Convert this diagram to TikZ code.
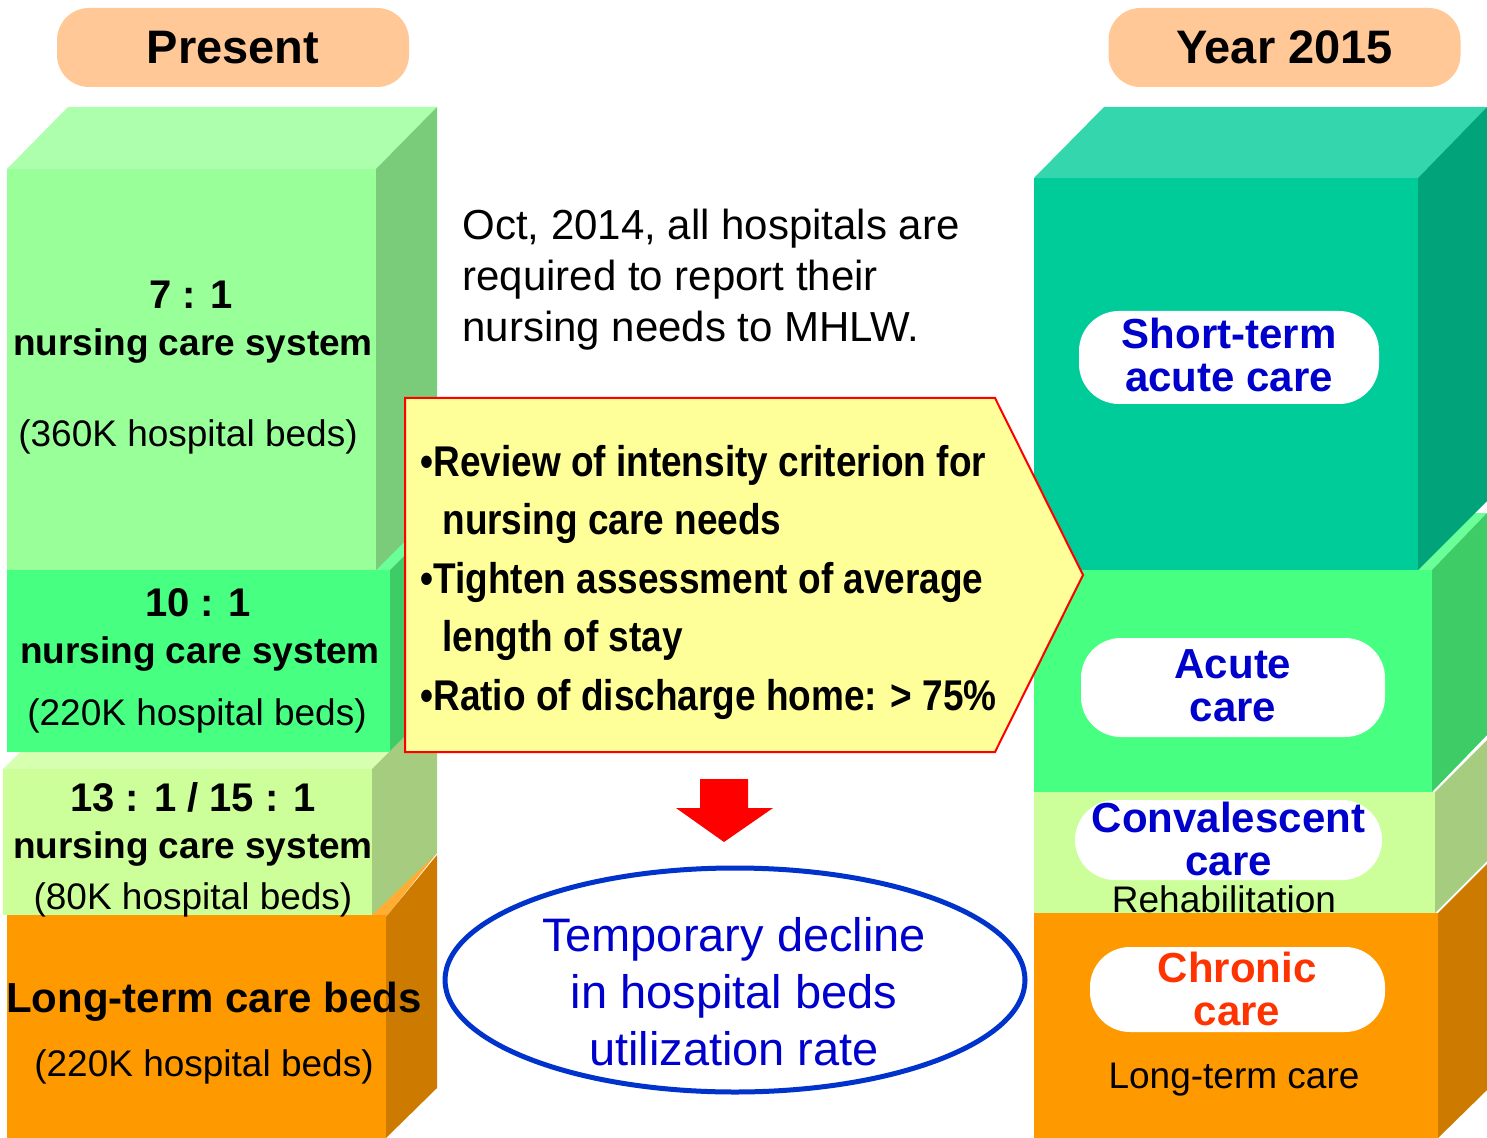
\documentclass[tikz,border=0pt]{standalone}
\usepackage{fontspec}
\setmainfont{Liberation Sans}
\newfontfamily\narrowfont[FakeStretch=0.86]{Liberation Sans}
\usetikzlibrary{shapes.geometric}
\definecolor{peach}{HTML}{FFC896}
\definecolor{mintfront}{HTML}{99FF99}
\definecolor{minttop}{HTML}{ADFFAD}
\definecolor{mintside}{HTML}{7ACC7A}
\definecolor{greenfront}{HTML}{47FF80}
\definecolor{greentop}{HTML}{6BFF99}
\definecolor{greenside}{HTML}{3DCC66}
\definecolor{limefront}{HTML}{CCFF99}
\definecolor{limetop}{HTML}{D6FFB0}
\definecolor{limeside}{HTML}{A6CC80}
\definecolor{orangefront}{HTML}{FF9900}
\definecolor{orangetop}{HTML}{FFAD33}
\definecolor{orangeside}{HTML}{CC7A00}
\definecolor{tealfront}{HTML}{00CC99}
\definecolor{tealtop}{HTML}{33D6AD}
\definecolor{tealside}{HTML}{00A37A}
\definecolor{pillblue}{HTML}{0000CC}
\definecolor{chronicred}{HTML}{FF3300}
\definecolor{ovalblue}{HTML}{0033CC}
\definecolor{notefill}{HTML}{FFFF99}
\begin{document}
\begin{tikzpicture}[x=0.5pt,y=-0.5pt,
  tab/.style={fill=peach,rounded corners=16pt,minimum width=176pt,minimum height=39.5pt,inner sep=0pt,font=\fontsize{23.5}{28}\selectfont\bfseries},
  ratio/.style={anchor=base,font=\fontsize{20}{24}\selectfont\bfseries},
  ncs/.style={anchor=base,font=\fontsize{18.5}{22}\selectfont\bfseries},
  beds/.style={anchor=base,font=\fontsize{18.5}{22}\selectfont},
  pill/.style={fill=white,rounded corners=20pt,inner sep=0pt},
  pilltext/.style={anchor=base,align=center,text=pillblue,font=\fontsize{21}{21.5}\selectfont\bfseries},
  oval/.style={draw=ovalblue,line width=2.5pt,ellipse,minimum width=290pt,minimum height=112pt,inner sep=0pt}]
\useasboundingbox (0,0) rectangle (1487,1138);
\node[tab] (present) at (233,47.5) {Present};
\node[tab] (year) at (1284.5,47.5) {Year 2015};
\fill[minttop] (7,169) -- (376,169) -- (437,107) -- (68,107) -- cycle;
\fill[greentop] (7,570) -- (390,570) -- (440,520) -- (57,520) -- cycle;
\fill[limetop] (3,769) -- (372,769) -- (437,704) -- (68,704) -- cycle;
\fill[orangetop] (7,917) -- (386,917) -- (437,853) -- (58,853) -- cycle;
\fill[mintside] (376,169) -- (437,107) -- (437,509) -- (376,570) -- cycle;
\fill[greenside] (390,570) -- (440,520) -- (440,702) -- (390,752) -- cycle;
\fill[limeside] (372,769) -- (437,704) -- (437,853) -- (372,915) -- cycle;
\fill[orangeside] (386,917) -- (437,855) -- (437,1088) -- (386,1138) -- cycle;
\fill[mintfront] (7,169) rectangle (376,570);
\fill[greenfront] (7,570) rectangle (390,752);
\fill[limefront] (3,769) rectangle (372,915);
\fill[orangefront] (7,915) rectangle (386,1138);
\fill[tealtop] (1034,178) -- (1418,178) -- (1487,107) -- (1104,107) -- cycle;
\fill[greentop] (1034,570) -- (1432,570) -- (1487,513) -- (1089,513) -- cycle;
\fill[tealside] (1418,178) -- (1487,107) -- (1487,501) -- (1418,570) -- cycle;
\fill[greenside] (1432,570) -- (1487,513) -- (1487,735) -- (1432,792) -- cycle;
\fill[limeside] (1435,792) -- (1487,740) -- (1487,861) -- (1435,913) -- cycle;
\fill[orangeside] (1438,913) -- (1487,864) -- (1487,1090) -- (1438,1138) -- cycle;
\fill[tealfront] (1034,178) rectangle (1418,570);
\fill[greenfront] (1034,570) rectangle (1432,792);
\fill[limefront] (1034,792) rectangle (1435,913);
\fill[orangefront] (1034,913) rectangle (1438,1138);
\node[ratio] (sevenone) at (191,309) {7 : 1};
\node[ncs] (sevenonencs) at (193,356) {nursing care system};
\node[beds] (sevenonebeds) at (188,447) {(360K hospital beds)};
\node[ratio] (tenone) at (198,616) {10 : 1};
\node[ncs] (tenonencs) at (200,663) {nursing care system};
\node[beds] (tenonebeds) at (197,725) {(220K hospital beds)};
\node[ratio] (thirteenone) at (193,811) {13 : 1 / 15 : 1};
\node[ncs] (thirteenonencs) at (193,858) {nursing care system};
\node[beds] (thirteenonebeds) at (193,909) {(80K hospital beds)};
\node[anchor=base,font=\fontsize{21}{25}\selectfont\bfseries] (longterm) at (214,1012) {Long-term care beds};
\node[beds] (longtermbeds) at (204,1076) {(220K hospital beds)};
\node[pill,minimum width=150pt,minimum height=46.5pt] (shortpill) at (1229,357.5) {};
\node[pilltext] (shorttext) at (1229,392) {Short-term\\acute care};
\node[pill,minimum width=152pt,minimum height=49.5pt] (acutepill) at (1233,687.5) {};
\node[pilltext] (acutetext) at (1233,721) {Acute\\care};
\node[pill,minimum width=153.5pt,minimum height=40pt] (convpill) at (1228.5,840) {};
\node[pilltext] (convtext) at (1228.5,875) {Convalescent\\care};
\node[beds] (rehab) at (1224,912) {Rehabilitation};
\node[pill,minimum width=147.5pt,minimum height=42.5pt] (chronicpill) at (1237.5,989.5) {};
\node[pilltext,text=chronicred] (chronictext) at (1237,1025) {Chronic\\care};
\node[beds] (ltcare) at (1234,1088) {Long-term care};
\node[anchor=base west,align=left,inner sep=0pt,font=\fontsize{21}{25.5}\selectfont] (mhlw) at (462,342) {Oct, 2014, all hospitals are\\required to report their\\nursing needs to MHLW.};
\filldraw[fill=notefill,draw=red,line width=1pt] (405,398) -- (995,398) -- (1083,575) -- (995,752) -- (405,752) -- cycle;
\node[anchor=base west,align=left,inner sep=0pt,font=\narrowfont\bfseries\fontsize{21.5}{29.25}\selectfont] (criteria) at (420,710) {\textbullet Review of intensity criterion for\\\hspace*{11pt}nursing care needs\\\textbullet Tighten assessment of average\\\hspace*{11pt}length of stay\\\textbullet Ratio of discharge home: > 75\%};
\fill[red] (700,779) -- (748,779) -- (748,808) -- (773,808) -- (724,842) -- (676,808) -- (700,808) -- cycle;
\node[oval] (declineoval) at (735,980) {};
\node[anchor=base,align=center,text=pillblue,font=\fontsize{23.5}{28.5}\selectfont] (declinetext) at (734,1065) {Temporary decline\\in hospital beds\\utilization rate};
\end{tikzpicture}
\end{document}
